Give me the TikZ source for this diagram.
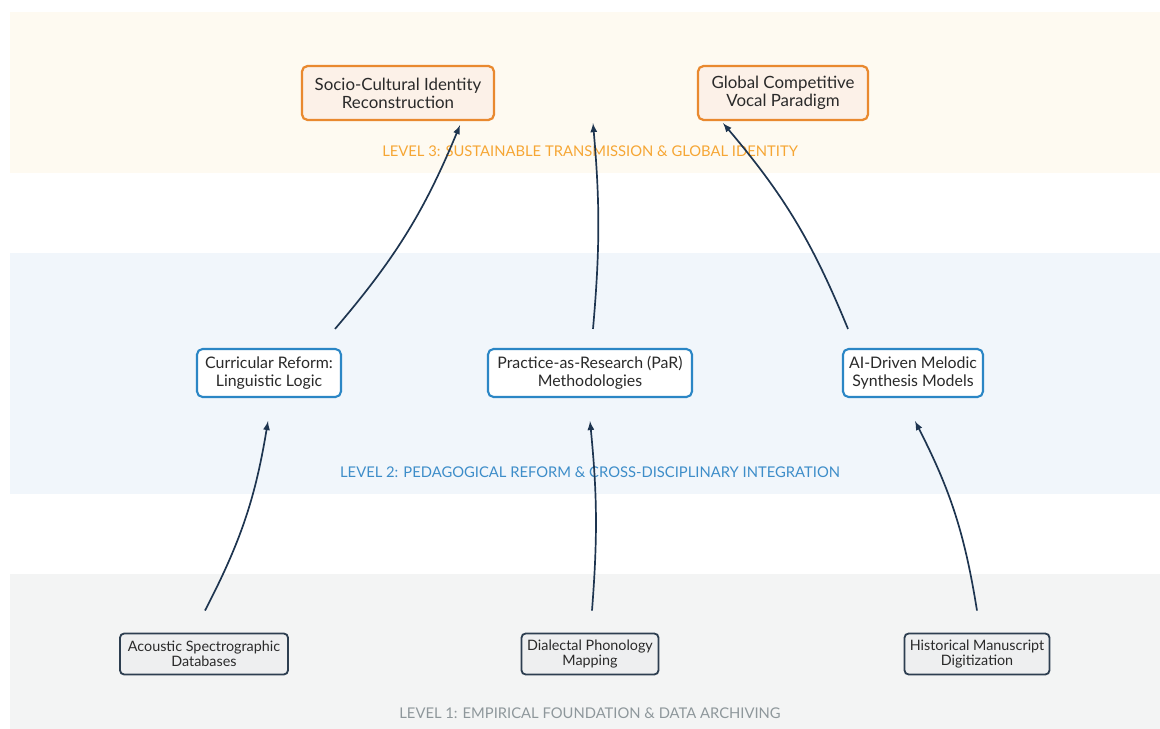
\documentclass[tikz,border=0pt]{standalone}
\usepackage{fontspec}
\setmainfont{Lato}
\usepackage{tikz}
\usetikzlibrary{arrows,calc}
\definecolor{bandthree}{HTML}{FEFAF1}
\definecolor{bandtwo}{HTML}{F1F6FB}
\definecolor{bandone}{HTML}{F3F4F4}
\definecolor{orangeline}{HTML}{E9892F}
\definecolor{orangefill}{HTML}{FCF1E8}
\definecolor{blueline}{HTML}{2B86C5}
\definecolor{darkline}{HTML}{2D3E50}
\definecolor{grayfill}{HTML}{EEEFF0}
\definecolor{flowcol}{HTML}{1E3550}
\definecolor{textcol}{HTML}{2A2A2A}
\definecolor{lvlthree}{HTML}{F6A634}
\definecolor{lvltwo}{HTML}{3D8DC9}
\definecolor{lvlone}{HTML}{8E979B}

\begin{document}
\begin{tikzpicture}[>=latex,x=0.025cm,y=-0.025cm,
		goalbox/.style={draw=orangeline,fill=orangefill,line width=1.6pt,rounded corners=4pt,minimum height=1.35cm,align=center,text=textcol,font=\fontsize{12}{12.8}\selectfont},
		reformbox/.style={draw=blueline,fill=white,line width=1.5pt,rounded corners=4pt,minimum height=1.2cm,align=center,text=textcol,font=\fontsize{11.3}{12.8}\selectfont},
		databox/.style={draw=darkline,fill=grayfill,line width=1.3pt,rounded corners=3pt,minimum height=1.025cm,align=center,text=textcol,font=\fontsize{10.2}{10.7}\selectfont},
		levellabel/.style={font=\fontsize{10.5}{12}\selectfont},
		flow/.style={->,draw=flowcol,line width=1.2pt}]
		\useasboundingbox (0,0) rectangle (1160,729);
		\fill[bandthree] (10,12) rectangle (1160,173);
		\fill[bandtwo] (10,253) rectangle (1160,494);
		\fill[bandone] (10,574) rectangle (1160,729);
		\node (lthree) [levellabel,text=lvlthree] at (590,151) {LEVEL 3: SUSTAINABLE TRANSMISSION \& GLOBAL IDENTITY};
		\node (ltwo)   [levellabel,text=lvltwo] at (590,472) {LEVEL 2: PEDAGOGICAL REFORM \& CROSS-DISCIPLINARY INTEGRATION};
		\node (lone)   [levellabel,text=lvlone] at (590,713) {LEVEL 1: EMPIRICAL FOUNDATION \& DATA ARCHIVING};
		\node (soc)  [goalbox,minimum width=4.8cm] at (398,93) {Socio-Cultural Identity\\Reconstruction};
		\node (glob) [goalbox,minimum width=4.25cm] at (783,93) {Global Competitive\\Vocal Paradigm};
		\node (cur)  [reformbox,minimum width=3.6cm] at (269,373) {Curricular Reform:\\Linguistic Logic};
		\node (par)  [reformbox,minimum width=5.1cm] at (590,373) {Practice-as-Research (PaR)\\Methodologies};
		\node (ai)   [reformbox,minimum width=3.5cm] at (913,373) {AI-Driven Melodic\\Synthesis Models};
		\node (ac)   [databox,minimum width=4.2cm] at (204,654) {Acoustic Spectrographic\\Databases};
		\node (dia)  [databox,minimum width=3.425cm] at (590,654) {Dialectal Phonology\\Mapping};
		\node (his)  [databox,minimum width=3.625cm] at (977,654) {Historical Manuscript\\Digitization};
		\coordinate (mid) at ($(soc.south east)!.5!(glob.south west)+(-3,2)$);
		\draw [flow] ($(ac.north)+(1,-22)$) to[bend right=9] ($(cur.south)+(-1,23)$);
		\draw [flow] ($(dia.north)+(2,-22)$) to[bend right=5] ($(par.south)+(0,23)$);
		\draw [flow] ($(his.north)+(0,-22)$) to[bend right=9] ($(ai.south)+(2,23)$);
		\draw [flow] ($(cur.north)+(66,-19)$) to[bend right=9] ($(soc.south)+(62,4)$);
		\draw [flow] ($(par.north)+(3,-19)$) to[bend right=5] (mid);
		\draw [flow] ($(ai.north)+(-65,-19)$) to[bend right=9] ($(glob.south)+(-60,2)$);
\end{tikzpicture}
\end{document}
